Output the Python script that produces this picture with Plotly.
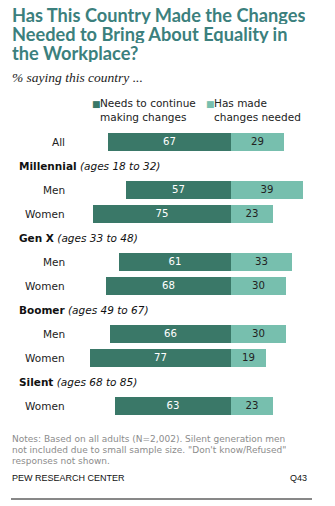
import plotly.graph_objects as go

# ---- data ----
row_labels = ["All", "Men", "Women", "Men", "Women", "Men", "Women", "Women"]
row_group = [None, "Millennial", "Millennial", "Gen X", "Gen X", "Boomer", "Boomer", "Silent"]
groups = ["Millennial", "Gen X", "Boomer", "Silent"]
group_ages = ["(ages 18 to 32)", "(ages 33 to 48)", "(ages 49 to 67)", "(ages 68 to 85)"]
needs_change = [67, 57, 75, 61, 68, 66, 77, 63]
made_changes = [29, 39, 23, 33, 30, 30, 19, 23]
series_names = ["Needs to continue<br>making changes", "Has made<br>changes needed"]

title_lines = ["Has This Country Made the Changes",
               "Needed to Bring About Equality in",
               "the Workplace?"]
subtitle = "% saying this country ..."
notes_lines = ["Notes: Based on all adults (N=2,002). Silent generation men",
               "not included due to small sample size. \"Don't know/Refused\"",
               "responses not shown."]
source = "PEW RESEARCH CENTER"
qnum = "Q43"

# ---- slot layout (headers inserted where the group changes) ----
slots, header_slots = [], []
s, prev = 0, None
for g in row_group:
    if g is not None and g != prev:
        header_slots.append((s, g))
        s += 1
    slots.append(s)
    s += 1
    prev = g
n_slots = s

DARK = "#3a7868"
LIGHT = "#77bfae"
TEAL = "#3b807d"
VFONT = "DejaVu Sans"

fig = go.Figure()
fig.add_trace(go.Bar(
    y=slots, x=[-v for v in needs_change], orientation="h",
    marker=dict(color=DARK, line=dict(width=0)), width=0.77,
    text=[str(v) for v in needs_change], textposition="inside",
    insidetextanchor="middle", textangle=0,
    textfont=dict(color="white", size=11, family=VFONT),
    name=series_names[0], hoverinfo="skip", showlegend=False))
fig.add_trace(go.Bar(
    y=slots, x=made_changes, orientation="h",
    marker=dict(color=LIGHT, line=dict(width=0)), width=0.77,
    text=[str(v) for v in made_changes], textposition="inside",
    insidetextanchor="middle", textangle=0,
    textfont=dict(color="#222222", size=11, family=VFONT),
    name=series_names[1], hoverinfo="skip", showlegend=False))

L, T, W, H = 84, 130, 239, 288
def fx(px):
    return (px - L) / W
def fy(py):
    return (T + H - py) / H

ann = []
# title
for i, line in enumerate(title_lines):
    ann.append(dict(text=line, x=fx(10), y=fy(14 + 19 * i), xref="paper", yref="paper",
                    xanchor="left", yanchor="middle", showarrow=False, height=19,
                    valign="middle",
                    font=dict(family="Lato", size=18.2, color=TEAL, weight="bold")))
# subtitle
ann.append(dict(text="<i>" + subtitle + "</i>", x=fx(10), y=fy(77), xref="paper", yref="paper",
                xanchor="left", yanchor="middle", showarrow=False,
                font=dict(family="Liberation Serif", size=13.5, color="#222222")))
# legend
leg_x = [91, 205]
for name, col, lx in zip(series_names, [DARK, LIGHT], leg_x):
    ann.append(dict(text="■", x=fx(lx - 1), y=fy(104), xref="paper", yref="paper",
                    xanchor="left", yanchor="middle", showarrow=False,
                    font=dict(family=VFONT, size=9, color=col)))
    ann.append(dict(text=name, x=fx(lx + 7), y=fy(110), xref="paper", yref="paper",
                    xanchor="left", yanchor="middle", showarrow=False, align="left",
                    font=dict(family=VFONT, size=10.5, color="#222222")))
# row labels
for sl, lab in zip(slots, row_labels):
    ann.append(dict(text=lab, x=fx(67), y=sl, xref="paper", yref="y",
                    xanchor="right", yanchor="middle", showarrow=False,
                    font=dict(family=VFONT, size=10.5, color="#222222")))
# group headers
for (sl, g) in header_slots:
    ages = group_ages[groups.index(g)]
    ann.append(dict(text="<b>" + g + "</b> <i>" + ages + "</i>", x=fx(17), y=sl,
                    xref="paper", yref="y", xanchor="left", yanchor="middle", showarrow=False,
                    font=dict(family=VFONT, size=10.5, color="#111111")))
# notes
for i, line in enumerate(notes_lines):
    ann.append(dict(text=line, x=fx(10), y=fy(438 + 11 * i), xref="paper", yref="paper",
                    xanchor="left", yanchor="middle", showarrow=False, height=11,
                    font=dict(family=VFONT, size=9, color="#8c8c8c")))
ann.append(dict(text=source, x=fx(10), y=fy(478), xref="paper", yref="paper",
                xanchor="left", yanchor="middle", showarrow=False,
                font=dict(family="Liberation Sans", size=9, color="#111111")))
ann.append(dict(text=qnum, x=fx(309), y=fy(478), xref="paper", yref="paper",
                xanchor="right", yanchor="middle", showarrow=False,
                font=dict(family="Liberation Sans", size=9, color="#111111")))

fig.update_layout(
    width=335, height=506,
    margin=dict(l=L, r=335 - L - W, t=T, b=506 - T - H, pad=0),
    paper_bgcolor="white", plot_bgcolor="white",
    barmode="relative", bargap=0,
    showlegend=False,
    xaxis=dict(range=[-80, 50], visible=False, fixedrange=True),
    yaxis=dict(range=[n_slots - 0.5, -0.5], visible=False, fixedrange=True),
    annotations=ann,
    shapes=[dict(type="line", xref="paper", yref="paper", x0=fx(11), x1=fx(312),
                 y0=fy(499), y1=fy(499), line=dict(color="#111111", width=1))],
)

fig.write_html("out.html", config={"displayModeBar": False})
